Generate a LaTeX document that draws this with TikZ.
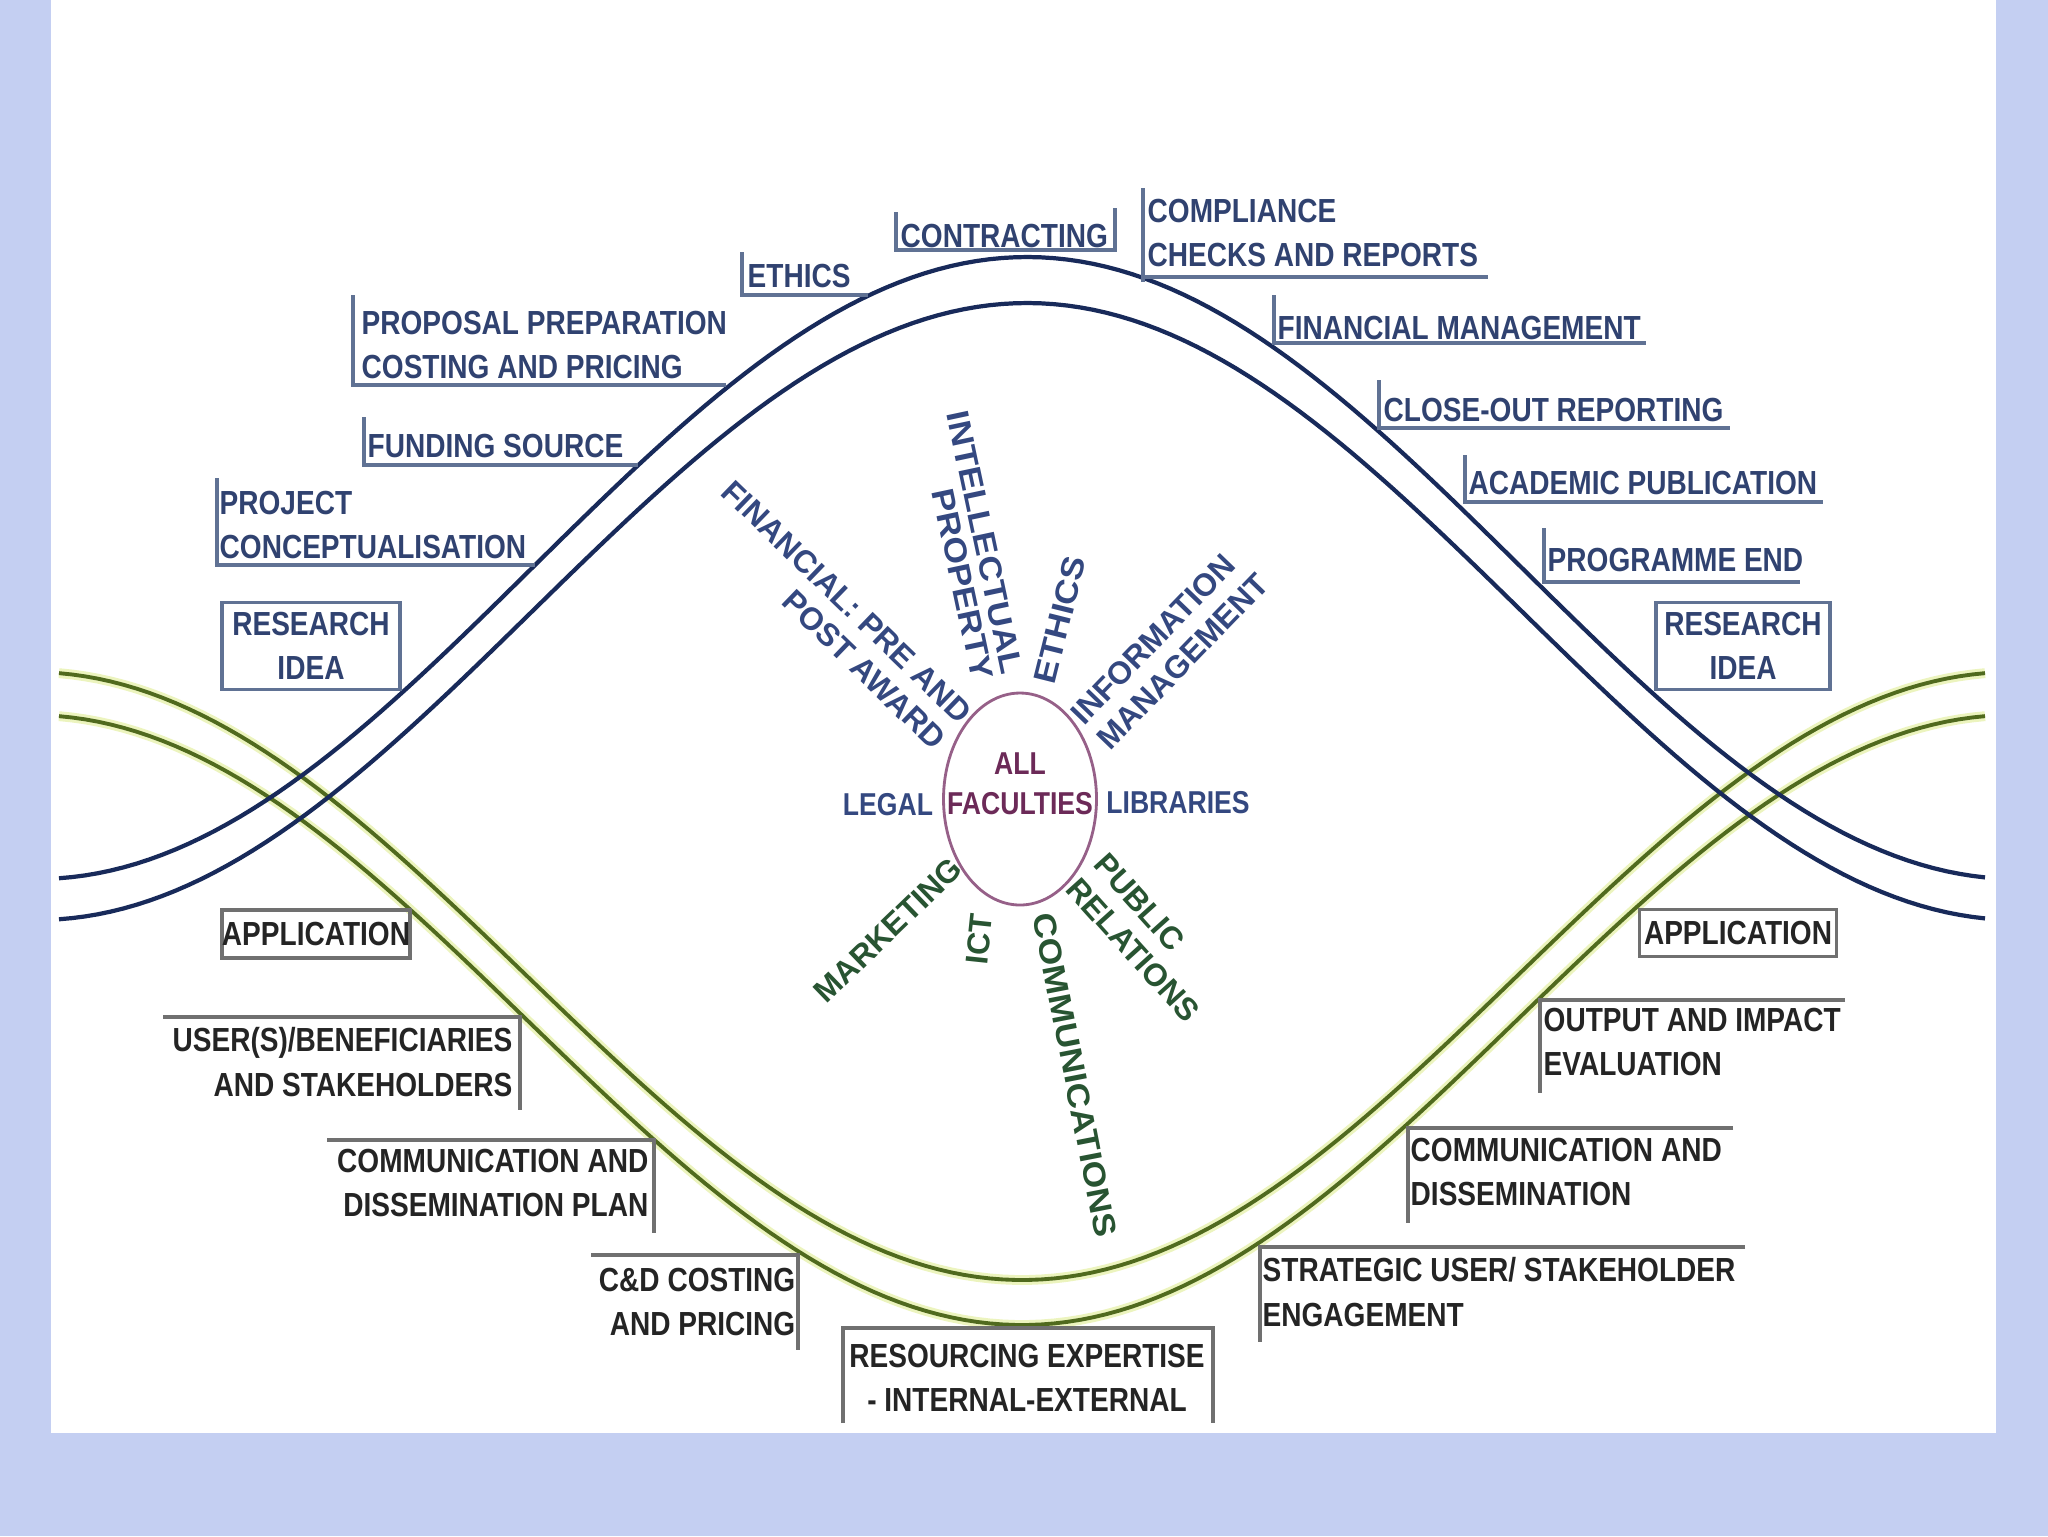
\documentclass[tikz,border=0pt]{standalone}
\usepackage{fontspec}
\usepackage{xcolor}
\definecolor{navy3}{RGB}{24,42,90}
\definecolor{olive3}{RGB}{80,106,30}
\definecolor{glow3}{RGB}{236,244,190}
\definecolor{slate3}{RGB}{48,66,112}
\definecolor{frame3}{RGB}{96,114,148}
\definecolor{ink3}{RGB}{36,36,36}
\definecolor{grey3}{RGB}{112,112,112}
\definecolor{plum3}{RGB}{150,96,136}
\definecolor{wine3}{RGB}{108,42,88}
\definecolor{spokeblue3}{RGB}{52,72,128}
\definecolor{spokegreen3}{RGB}{40,84,50}
\definecolor{paper3}{RGB}{196,207,242}
\newfontfamily\labfont{Liberation Sans}[FakeStretch=0.84]
\newfontfamily\spokefont{Liberation Sans}
\newfontfamily\widefont{Liberation Sans}[FakeStretch=1.12]
\usepackage{tikz}
\usetikzlibrary{shapes.geometric}

\begin{document}
\begin{tikzpicture}[x=0.1mm, y=-0.1mm,
    uplab/.style={font=\labfont\bfseries\fontsize{9.5}{12.6}\selectfont,
        text=slate3, inner sep=0pt, anchor=north west, align=left},
    lowlab/.style={uplab, text=ink3},
    upline/.style={draw=frame3, line width=0.9pt},
    lowline/.style={draw=grey3, line width=0.9pt},
    ideabox/.style={uplab, anchor=center, align=center, draw=frame3,
        line width=0.9pt},
    appbox/.style={lowlab, anchor=center, draw=grey3, line width=0.9pt},
    spoke/.style={font=\spokefont\bfseries\fontsize{9}{10.5}\selectfont,
        inner sep=0pt},
    widespoke/.style={font=\widefont\bfseries\fontsize{9}{8.6}\selectfont,
        inner sep=0pt},
    flat/.style={font=\labfont\bfseries\fontsize{9}{11.4}\selectfont,
        inner sep=0pt},
    navycurve/.style={draw=navy3, line width=1.2pt},
    olivecurve/.style={draw=olive3, line width=1.1pt,
        preaction={draw=glow3, line width=2.8pt}}]

\useasboundingbox (0,0) rectangle (2048,1536);

% Slide background and white panel
\fill[paper3] (0,0) rectangle (2048,1536);
\fill[white] (51,0) rectangle (1996,1433);

% Green waves (trough at the bottom)
\draw[olivecurve, domain=59:1985, samples=150]
    plot (\x, {976+304*cos((\x-1022)/990*180)});
\draw[olivecurve, domain=59:1985, samples=150]
    plot (\x, {1020+305*cos((\x-1022)/990*180)});

% Blue waves (peak at the top)
\draw[navycurve, domain=59:1985, samples=150]
    plot (\x, {568-311*cos((\x-1027)/990*180)});
\draw[navycurve, domain=59:1985, samples=150]
    plot (\x, {611.5-308.5*cos((\x-1027)/990*180)});

% Boxed end points
\node[ideabox, minimum width=17.8mm, minimum height=8.7mm] (idea-l)
    at (311,646) {RESEARCH\\IDEA};
\node[ideabox, minimum width=17.4mm, minimum height=8.7mm] (idea-r)
    at (1743,646) {RESEARCH\\IDEA};
\node[appbox, minimum width=18.8mm, minimum height=4.8mm] (appl-l)
    at (316,934) {APPLICATION};
\node[appbox, minimum width=19.7mm, minimum height=4.7mm] (appl-r)
    at (1738,933) {APPLICATION};

% Upper stages along the blue wave
\node[uplab] (concept) at (219,490) {PROJECT\\CONCEPTUALISATION};
\node[uplab] (funding) at (367,433) {FUNDING SOURCE};
\node[uplab] (proposal) at (361,310) {PROPOSAL PREPARATION\\COSTING AND PRICING};
\node[uplab] (ethics) at (747,263) {ETHICS};
\node[uplab] (contract) at (900,223) {CONTRACTING};
\node[uplab] (comply) at (1147,198) {COMPLIANCE\\CHECKS AND REPORTS};
\node[uplab] (finmgmt) at (1277,315) {FINANCIAL MANAGEMENT};
\node[uplab] (closeout) at (1383,397) {CLOSE-OUT REPORTING};
\node[uplab] (acadpub) at (1468,470) {ACADEMIC PUBLICATION};
\node[uplab] (progend) at (1547,547) {PROGRAMME END};

\draw[upline] (217,478) |- (535,565);
\draw[upline] (364,417) |- (638,465);
\draw[upline] (353,295) |- (726,385);
\draw[upline] (742,252) |- (868,295);
\draw[upline] (896,212) |- (1115,250) -- (1115,208);
\draw[upline] (1143,188) -- (1143,282) (1143,277) -- (1488,277);
\draw[upline] (1274,295) |- (1646,343);
\draw[upline] (1379,380) |- (1730,428);
\draw[upline] (1465,455) |- (1823,502);
\draw[upline] (1544,528) |- (1800,582);

% Lower stages along the green wave
\node[lowlab, anchor=north east, align=right] (users) at (513,1027)
    {USER(S)/BENEFICIARIES\\AND STAKEHOLDERS};
\node[lowlab, anchor=north east, align=right] (commplan) at (649,1148)
    {COMMUNICATION AND\\DISSEMINATION PLAN};
\node[lowlab, anchor=north east, align=right] (cdcost) at (796,1267)
    {C\&D COSTING\\AND PRICING};
\node[lowlab, anchor=north, align=center] (resourcing) at (1027,1343)
    {RESOURCING EXPERTISE\\- INTERNAL-EXTERNAL};
\node[lowlab] (strategic) at (1262,1257)
    {STRATEGIC USER/ STAKEHOLDER\\ENGAGEMENT};
\node[lowlab] (commdiss) at (1410,1137) {COMMUNICATION AND\\DISSEMINATION};
\node[lowlab] (output) at (1543,1007) {OUTPUT AND IMPACT\\EVALUATION};

\draw[lowline] (163,1017) -| (520,1110);
\draw[lowline] (327,1140) -| (654,1233);
\draw[lowline] (591,1255) -| (798,1350);
\draw[lowline] (843,1423) |- (1213,1328) -- (1213,1423);
\draw[lowline] (1745,1247) -| (1260,1342);
\draw[lowline] (1733,1128) -| (1408,1223);
\draw[lowline] (1845,1000) -| (1540,1093);

% Hub with the support services around it
\node[draw=plum3, line width=0.8pt, ellipse, minimum width=15.3mm,
    minimum height=21.2mm, inner sep=0pt] (hub) at (1020,799) {};
\node[flat, text=wine3, align=center] (hubtext) at (1020,784) {ALL\\FACULTIES};

\node[flat, text=spokeblue3] (legal) at (888,805) {LEGAL};
\node[flat, text=spokeblue3] (libraries) at (1178,803) {LIBRARIES};
\node[spoke, text=spokeblue3, align=right, anchor=east, rotate=-44]
    (financial) at (954,731) {FINANCIAL: PRE AND\\POST AWARD};
\node[widespoke, text=spokeblue3, align=right, anchor=east, rotate=-78]
    (ip) at (998,677) {INTELLECTUAL\\PROPERTY};
\node[widespoke, text=spokeblue3, rotate=76] (ethicsb) at (1060,620) {ETHICS};
\node[spoke, text=spokeblue3, align=left, anchor=west, rotate=46]
    (infomgmt) at (1089,732) {INFORMATION\\MANAGEMENT};
\node[spoke, text=spokegreen3, align=left, anchor=west, rotate=-48]
    (pr) at (1086,870) {PUBLIC\\RELATIONS};
\node[widespoke, text=spokegreen3, rotate=-79] (comms) at (1075,1075)
    {COMMUNICATIONS};
\node[spoke, text=spokegreen3, rotate=84] (ict) at (979,939) {ICT};
\node[spoke, text=spokegreen3, rotate=44] (marketing) at (888,930) {MARKETING};

\end{tikzpicture}
\end{document}
